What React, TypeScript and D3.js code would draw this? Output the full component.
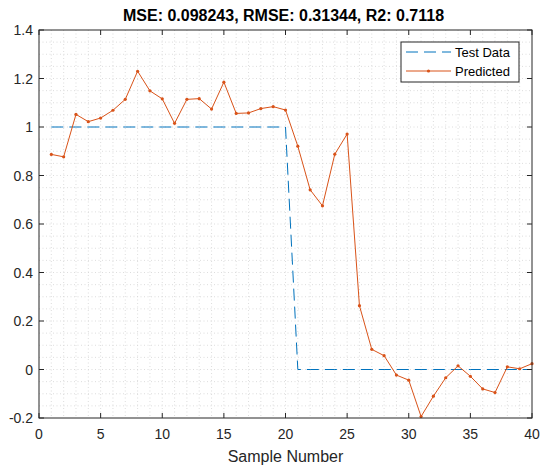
import React from 'react';
import * as d3 from 'd3';

const sampleIdx: number[] = d3.range(1, 41);
const testData: number[] = [
  1, 1, 1, 1, 1, 1, 1, 1, 1, 1, 1, 1, 1, 1, 1, 1, 1, 1, 1, 1,
  0, 0, 0, 0, 0, 0, 0, 0, 0, 0, 0, 0, 0, 0, 0, 0, 0, 0, 0, 0,
];
const predicted: number[] = [
  0.887, 0.877, 1.052, 1.022, 1.037, 1.069, 1.114, 1.23, 1.149, 1.116,
  1.015, 1.114, 1.117, 1.074, 1.185, 1.056, 1.058, 1.076, 1.084, 1.07,
  0.921, 0.741, 0.675, 0.888, 0.971, 0.263, 0.083, 0.057, -0.023, -0.044,
  -0.194, -0.11, -0.034, 0.015, -0.028, -0.08, -0.095, 0.011, 0.003, 0.024,
];
const xTicks: number[] = [0, 5, 10, 15, 20, 25, 30, 35, 40];
const yTicks: number[] = [-0.2, 0, 0.2, 0.4, 0.6, 0.8, 1, 1.2, 1.4];
const titleText = 'MSE: 0.098243, RMSE: 0.31344, R2: 0.7118';
const xLabel = 'Sample Number';
const legendNames = ['Test Data', 'Predicted'];

const W = 540;
const H = 465;
const margin = { top: 30, right: 8, bottom: 47, left: 39 };
const font = '"Liberation Sans", Arial, Helvetica, sans-serif';
const blue = '#0072BD';
const orange = '#D95319';

export default function App() {
  const x = d3.scaleLinear().domain([0, 40]).range([margin.left, W - margin.right]);
  const y = d3.scaleLinear().domain([-0.2, 1.4]).range([H - margin.bottom, margin.top]);
  const [x0, x1] = x.range();
  const [y0, y1] = y.range();

  const minorX = d3.range(1, 40);
  const minorY = d3.range(-0.15, 1.4, 0.05).map((v) => Math.round(v * 100) / 100);

  const line = d3
    .line<number>()
    .x((_, i) => x(sampleIdx[i]))
    .y((d) => y(d));

  const fmt = (v: number) => (Math.abs(v) < 1e-9 ? '0' : String(Math.round(v * 10) / 10));

  return (
    <svg
      width={W}
      height={H}
      style={{ position: 'absolute', left: 0, top: 0, background: '#fff' }}
      fontFamily={font}
    >
      <rect x={0} y={0} width={W} height={H} fill="#fff" />
      {/* grid */}
      <g stroke="#d4d4d4" strokeWidth={0.8} strokeDasharray="1,2.5">
        {minorX.map((v) => (
          <line key={'gx' + v} x1={x(v)} x2={x(v)} y1={y1} y2={y0} />
        ))}
        {minorY.map((v) => (
          <line key={'gy' + v} x1={x0} x2={x1} y1={y(v)} y2={y(v)} />
        ))}
      </g>

      {/* series */}
      <path d={line(testData) ?? ''} fill="none" stroke={blue} strokeWidth={1} strokeDasharray="12,6" />
      <path d={line(predicted) ?? ''} fill="none" stroke={orange} strokeWidth={1} />
      {predicted.map((v, i) => (
        <circle key={'p' + i} cx={x(sampleIdx[i])} cy={y(v)} r={1.6} fill={orange} />
      ))}

      {/* box and ticks */}
      <rect x={x0} y={y1} width={x1 - x0} height={y0 - y1} fill="none" stroke="#262626" strokeWidth={1} />
      <g stroke="#262626" strokeWidth={1}>
        {xTicks.map((v) => (
          <g key={'xt' + v}>
            <line x1={x(v)} x2={x(v)} y1={y0} y2={y0 - 5} />
            <line x1={x(v)} x2={x(v)} y1={y1} y2={y1 + 5} />
          </g>
        ))}
        {yTicks.map((v) => (
          <g key={'yt' + v}>
            <line x1={x0} x2={x0 + 5} y1={y(v)} y2={y(v)} />
            <line x1={x1} x2={x1 - 5} y1={y(v)} y2={y(v)} />
          </g>
        ))}
      </g>
      <g fill="#262626" fontSize={14}>
        {xTicks.map((v) => (
          <text key={'xl' + v} x={x(v)} y={y0 + 21} textAnchor="middle">
            {v}
          </text>
        ))}
        {yTicks.map((v) => (
          <text key={'yl' + v} x={x0 - 6} y={y(v) + 5} textAnchor="end">
            {fmt(v)}
          </text>
        ))}
      </g>
      <text x={(x0 + x1) / 2} y={y0 + 44} textAnchor="middle" fontSize={16} fill="#262626">
        {xLabel}
      </text>
      <text x={(x0 + x1) / 2 - 2} y={21} textAnchor="middle" fontSize={16} fontWeight="bold" fill="#000">
        {titleText}
      </text>

      {/* legend */}
      <g>
        <rect x={401} y={42} width={118} height={40} fill="#fff" stroke="#262626" strokeWidth={1} />
        <line x1={406} x2={451} y1={52} y2={52} stroke={blue} strokeWidth={1} strokeDasharray="12,6" />
        <line x1={406} x2={451} y1={71} y2={71} stroke={orange} strokeWidth={1} />
        <circle cx={428.5} cy={71} r={1.6} fill={orange} />
        <text x={455} y={56.5} fontSize={13} fill="#000">
          {legendNames[0]}
        </text>
        <text x={455} y={75.5} fontSize={13} fill="#000">
          {legendNames[1]}
        </text>
      </g>
    </svg>
  );
}
